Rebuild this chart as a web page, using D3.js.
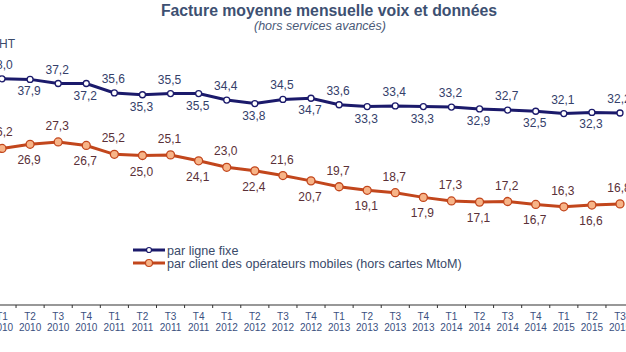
<!DOCTYPE html>
<html>
<head>
<meta charset="utf-8">
<script src="https://d3js.org/d3.v7.min.js"></script>
<style>
  body { margin: 0; background: #fff; }
  svg { display: block; font-family: "Liberation Sans", Arial, sans-serif; }
</style>
</head>
<body>
<div id="chart"></div>
<script>
const quarters = ['T1','T2','T3','T4','T1','T2','T3','T4','T1','T2','T3','T4','T1','T2','T3','T4','T1','T2','T3','T4','T1','T2','T3']
const years = ['2010','2010','2010','2010','2011','2011','2011','2011','2012','2012','2012','2012','2013','2013','2013','2013','2014','2014','2014','2014','2015','2015','2015']
const fixe = [38.0, 37.9, 37.2, 37.2, 35.6, 35.3, 35.5, 35.5, 34.4, 33.8, 34.5, 34.7, 33.6, 33.3, 33.4, 33.3, 33.2, 32.9, 32.7, 32.5, 32.1, 32.3, 32.2]
const mobile = [26.2, 26.9, 27.3, 26.7, 25.2, 25.0, 25.1, 24.1, 23.0, 22.4, 21.6, 20.7, 19.7, 19.1, 18.7, 17.9, 17.3, 17.1, 17.2, 16.7, 16.3, 16.6, 16.8]
const seriesNames = ['par ligne fixe', 'par client des opérateurs mobiles (hors cartes MtoM)']

const w = 626, h = 352
const svg = d3.select('#chart').append('svg').attr('width', w).attr('height', h)

const cats = quarters.map((q, i) => i)
const step = (620 - 2) / (cats.length - 1)
const x = d3.scaleBand().domain(cats).range([2 - step / 2, 620 + step / 2]).padding(0)
const cx = i => x(i) + x.bandwidth() / 2
const y = d3.scaleLinear().domain([0, 40]).range([303, 67])

// titres
svg.append('text').attr('x', 329).attr('y', 16).attr('text-anchor', 'middle')
  .style('font-size', '15.8px').style('font-weight', 'bold').style('fill', '#3d5072')
  .text('Facture moyenne mensuelle voix et données')
svg.append('text').attr('x', 320).attr('y', 30).attr('text-anchor', 'middle')
  .style('font-size', '12.5px').style('font-style', 'italic').style('fill', '#4a5a78')
  .text('(hors services avancés)')
svg.append('text').attr('x', 15).attr('y', 48).attr('text-anchor', 'end')
  .style('font-size', '12px').style('fill', '#3a4a6a').text('€HT')

// axe x
const axisY = 305
svg.append('line').attr('x1', 0).attr('x2', w).attr('y1', axisY).attr('y2', axisY)
  .attr('stroke', '#333').attr('stroke-width', 1.2)
svg.selectAll('.tk').data(cats).enter().append('line')
  .attr('x1', d => x(d)).attr('x2', d => x(d))
  .attr('y1', axisY).attr('y2', axisY + 3)
  .attr('stroke', '#333')
const xl = svg.selectAll('.xl').data(cats).enter().append('text')
  .attr('text-anchor', 'middle').style('font-size', '10px').style('fill', '#3a5080')
xl.append('tspan').attr('x', d => cx(d)).attr('y', 320).text(d => quarters[d])
xl.append('tspan').attr('x', d => cx(d)).attr('y', 331).text(d => years[d])

function drawSeries(vals, lineCol, ptFill, r, labCol, up, down) {
  const line = d3.line().x((d, i) => cx(i)).y(d => y(d))
  svg.append('path').datum(vals).attr('d', line)
    .attr('fill', 'none').attr('stroke', lineCol).attr('stroke-width', 3)
  svg.selectAll(null).data(vals).enter().append('circle')
    .attr('cx', (d, i) => cx(i)).attr('cy', d => y(d)).attr('r', r)
    .attr('fill', ptFill).attr('stroke', lineCol).attr('stroke-width', 1.3)
  svg.selectAll(null).data(vals).enter().append('text')
    .attr('x', (d, i) => cx(i) - 1)
    .attr('y', (d, i) => i % 2 === 0 ? y(d) - up : y(d) + down)
    .attr('text-anchor', 'middle').style('font-size', '12px').style('fill', labCol)
    .text(d => d3.format('.1f')(d).replace('.', ','))
}

drawSeries(fixe, '#1b1a6b', '#fff', 3, '#34406a', 10, 16)
drawSeries(mobile, '#c2461c', '#f7b488', 4, '#5a3038', 12, 20)

// légende
const legend = svg.append('g')
const lg = [{ name: seriesNames[0], col: '#1b1a6b', fill: '#fff', r: 2.5, yy: 250 },
            { name: seriesNames[1], col: '#c2461c', fill: '#f7b488', r: 3.5, yy: 263 }]
lg.forEach(s => {
  legend.append('line').attr('x1', 133).attr('x2', 165).attr('y1', s.yy).attr('y2', s.yy)
    .attr('stroke', s.col).attr('stroke-width', 3)
  legend.append('circle').attr('cx', 149).attr('cy', s.yy).attr('r', s.r)
    .attr('fill', s.fill).attr('stroke', s.col).attr('stroke-width', 1.2)
  legend.append('text').attr('x', 167).attr('y', s.yy + 4.5)
    .style('font-size', '12.6px').style('fill', '#3a4a6a').text(s.name)
})
</script>
</body>
</html>
